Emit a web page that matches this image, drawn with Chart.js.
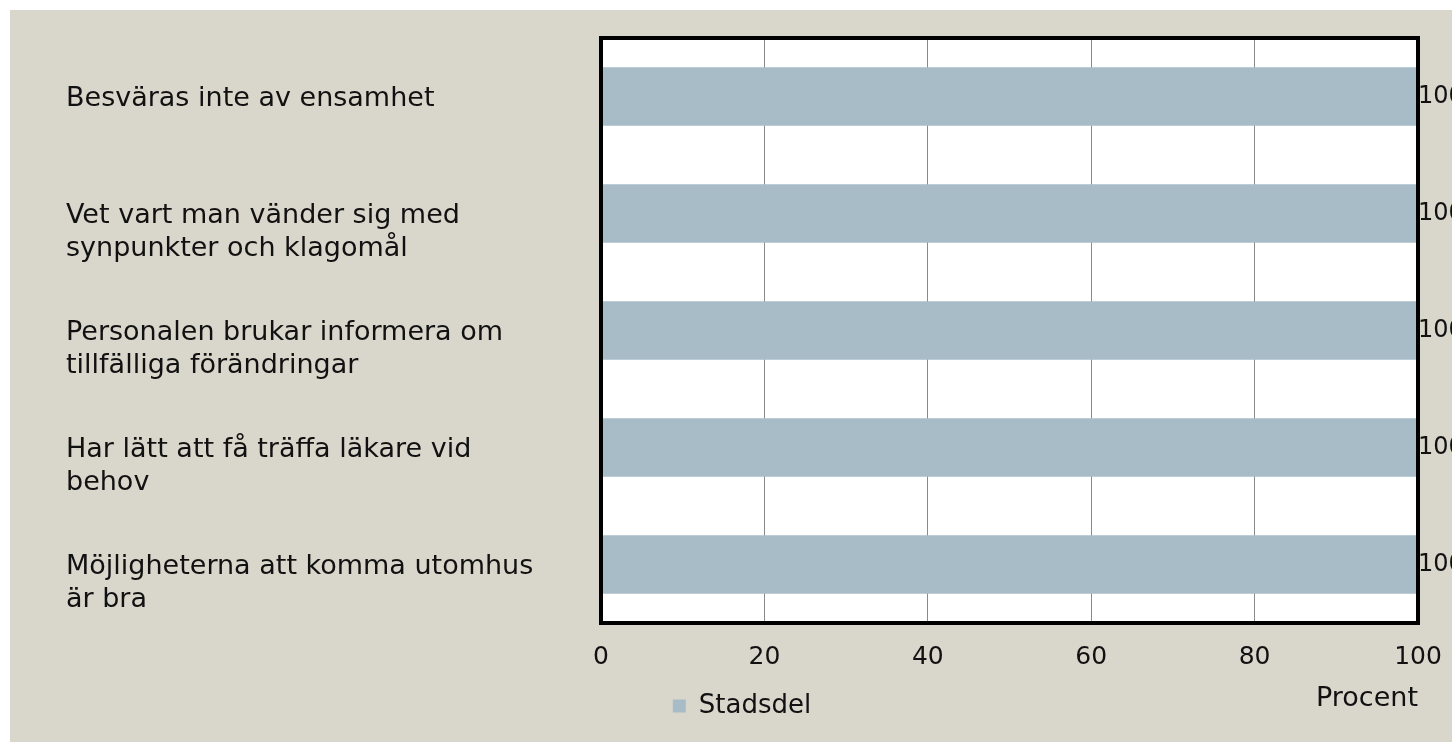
<!DOCTYPE html>
<html>
<head>
<meta charset="utf-8">
<script src="https://cdn.jsdelivr.net/npm/chart.js@4/dist/chart.umd.min.js"></script>
<style>
  body { margin: 0; background: #fff; }
</style>
</head>
<body>
<canvas id="chart1" width="1452" height="742"></canvas>
<script>
// kategorier (tom andra rad på enradiga etiketter för att hålla samma placering)
var categories = [
    ['Besväras inte av ensamhet', ''],
    ['Vet vart man vänder sig med', 'synpunkter och klagomål'],
    ['Personalen brukar informera om', 'tillfälliga förändringar'],
    ['Har lätt att få träffa läkare vid', 'behov'],
    ['Möjligheterna att komma utomhus', 'är bra']
];
var stadsdel = [100, 100, 100, 100, 100];
var xTicks = [0, 20, 40, 60, 80, 100];

var fontFam = '"DejaVu Sans", sans-serif';
var beige = '#d9d7cc';

var bgPlugin = {
    id: 'bg',
    beforeDraw: function (chart) {
        var c = chart.ctx, a = chart.chartArea;
        c.save();
        c.fillStyle = '#fff';
        c.fillRect(0, 0, chart.width, chart.height);
        c.fillStyle = beige;
        c.fillRect(10, 10, chart.width - 10, chart.height - 10);
        c.fillStyle = '#fff';
        c.fillRect(a.left, a.top, a.right - a.left, a.bottom - a.top);
        c.restore();
    },
    afterDraw: function (chart) {
        var c = chart.ctx, a = chart.chartArea;
        c.save();
        c.strokeStyle = '#000';
        c.lineWidth = 4;
        c.strokeRect(a.left, a.top, a.right - a.left, a.bottom - a.top);
        // värdeetiketter
        var meta = chart.getDatasetMeta(0);
        c.fillStyle = '#111';
        c.font = '24px ' + fontFam;
        c.textAlign = 'left';
        c.textBaseline = 'middle';
        meta.data.forEach(function (bar, i) {
            c.fillText(String(stadsdel[i]), bar.x, bar.y);
        });
        c.restore();
    }
};

var ctx = document.getElementById('chart1');
var chart = new Chart(ctx, {
    type: 'bar',
    data: {
        labels: categories,
        datasets: [{
            label: 'Stadsdel',
            data: stadsdel,
            backgroundColor: '#a7bcc7',
            borderWidth: 0,
            categoryPercentage: 1,
            barPercentage: 0.5
        }]
    },
    options: {
        indexAxis: 'y',
        responsive: false,
        animation: false,
        devicePixelRatio: 1,
        layout: { padding: { left: 66, top: 38, right: 34, bottom: 13 } },
        plugins: {
            tooltip: { enabled: false },
            legend: {
                position: 'bottom',
                labels: {
                    boxWidth: 13,
                    boxHeight: 13,
                    padding: 8,
                    color: '#111',
                    font: { family: fontFam, size: 26 }
                }
            }
        },
        scales: {
            x: {
                min: 0,
                max: 100,
                afterBuildTicks: function (scale) {
                    scale.ticks = xTicks.map(function (v) { return { value: v }; });
                },
                afterFit: function (scale) {
                    scale.height = 62;
                    scale.paddingLeft = 0;
                    scale.paddingRight = 0;
                },
                grid: { color: '#8a8a8a', lineWidth: 1, drawTicks: false },
                border: { display: false },
                ticks: {
                    padding: 19,
                    color: '#111',
                    font: { family: fontFam, size: 25 }
                },
                title: {
                    display: true,
                    text: 'Procent',
                    align: 'end',
                    color: '#111',
                    font: { family: fontFam, size: 27 },
                    padding: { top: 0, bottom: -30 }
                }
            },
            y: {
                afterFit: function (scale) { scale.width = 535; },
                grid: { display: false },
                border: { display: false },
                ticks: {
                    crossAlign: 'far',
                    labelOffset: 19,
                    color: '#111',
                    font: { family: fontFam, size: 27, lineHeight: 1.2 }
                }
            }
        }
    },
    plugins: [bgPlugin]
});
</script>
</body>
</html>
